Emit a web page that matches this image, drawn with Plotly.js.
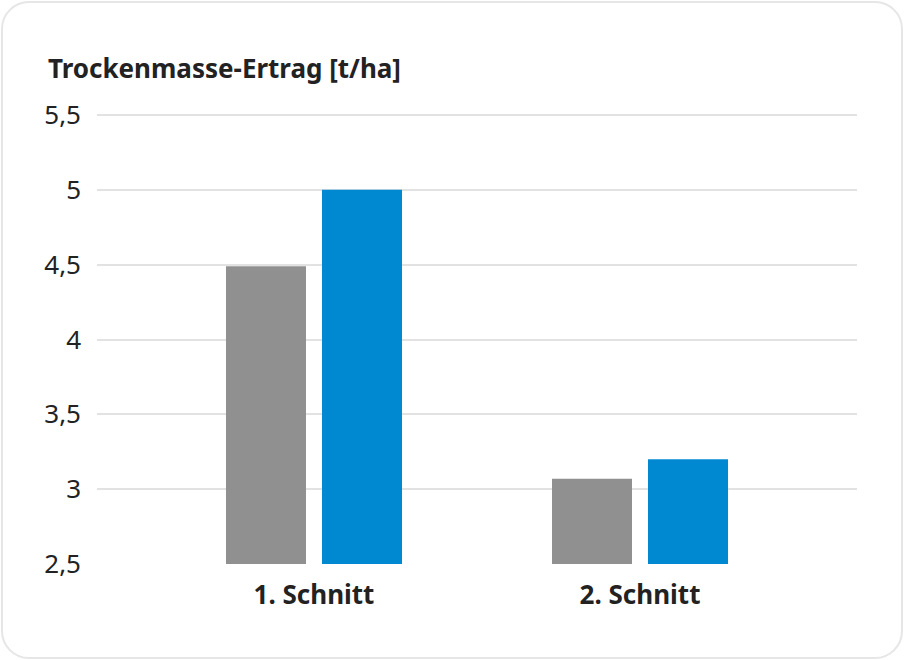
<!DOCTYPE html>
<html>
<head>
<meta charset="utf-8">
<script src="https://cdn.plot.ly/plotly-3.0.1.min.js"></script>
<style>
html,body{margin:0;padding:0;background:#fff;}
#wrap{position:absolute;left:0;top:0;width:904px;height:660px;}
#frame{position:absolute;left:1px;top:1px;width:898px;height:654px;border:2px solid #e6e6e6;border-radius:28px;pointer-events:none;}
#chart{position:absolute;left:0;top:0;width:904px;height:660px;}
</style>
</head>
<body>
<div id="wrap"><div id="chart"></div><div id="frame"></div></div>
<script>
const categories = ["1. Schnitt", "2. Schnitt"];
const seriesGrey = [4.49, 3.07];
const seriesBlue = [5.0, 3.2];
const yTickVals = [2.5, 3, 3.5, 4, 4.5, 5, 5.5];
const yTickText = ["2,5", "3", "3,5", "4", "4,5", "5", "5,5"];

const FONT = "Noto Sans, Open Sans, sans-serif";

const traces = [
  {type:"bar", x:categories, y:seriesGrey, marker:{color:"#909090"}, name:"A", hoverinfo:"none"},
  {type:"bar", x:categories, y:seriesBlue, marker:{color:"#0088d1"}, name:"B", hoverinfo:"none"}
];

const layout = {
  width:904, height:660,
  paper_bgcolor:"rgba(0,0,0,0)", plot_bgcolor:"rgba(0,0,0,0)",
  margin:{l:97, r:47, t:112, b:96},
  showlegend:false,
  barmode:"group", bargap:0.411, bargroupgap:0.1667,
  font:{family:FONT, color:"#222"},
  title:{text:"<b>Trockenmasse-Ertrag [t/ha]</b>", font:{family:FONT, size:26, color:"#222"},
    x:48/904, xref:"container", xanchor:"left", y:1-69/660, yref:"container", yanchor:"middle"},
  xaxis:{type:"category", range:[-0.6656, 1.6656], showgrid:false, zeroline:false, showline:false,
    ticks:"", tickfont:{family:FONT, size:26, color:"#222", weight:"bold"}, ticklabelstandoff:13, fixedrange:true},
  yaxis:{range:[2.5, 5.52], tickvals:yTickVals, ticktext:yTickText, showgrid:true, gridcolor:"#e2e2e2", gridwidth:2,
    zeroline:false, showline:false, ticks:"", ticklabelstandoff:15, tickfont:{family:FONT, size:26, color:"#222"}, fixedrange:true}
};

Plotly.newPlot("chart", traces, layout, {displayModeBar:false, staticPlot:true});
</script>
</body>
</html>
